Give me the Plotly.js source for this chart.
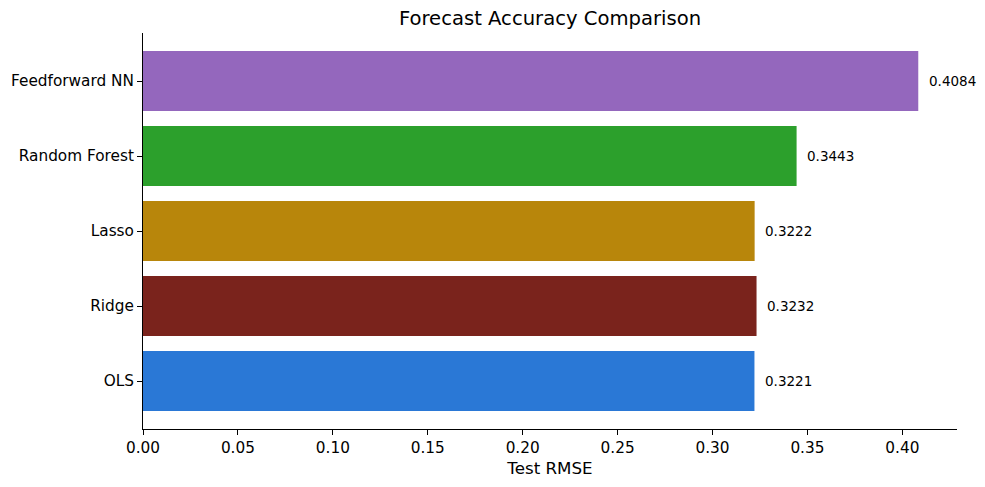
<!DOCTYPE html>
<html>
<head>
<meta charset="utf-8">
<script src="https://cdn.plot.ly/plotly-3.0.1.min.js"></script>
<style>html,body{margin:0;padding:0;background:#fff;}#chart{width:985px;height:487px;}</style>
</head>
<body>
<div id="chart"></div>
<script>
const models = ["OLS", "Ridge", "Lasso", "Random Forest", "Feedforward NN"];
const rmse = [0.3221, 0.3232, 0.3222, 0.3443, 0.4084];
const barColors = ["#2a78d6", "#7a231c", "#b8860b", "#2ca02c", "#9467bd"];
const xTicks = [0, 0.05, 0.10, 0.15, 0.20, 0.25, 0.30, 0.35, 0.40];
const xTickLabels = ["0.00", "0.05", "0.10", "0.15", "0.20", "0.25", "0.30", "0.35", "0.40"];

const font = "DejaVu Sans, sans-serif";

const trace = {
  type: "bar",
  orientation: "h",
  x: rmse,
  y: models,
  marker: {color: barColors, line: {width: 0}},
  hoverinfo: "x+y"
};

const annotations = rmse.map((v, i) => ({
  x: v + 0.005,
  y: models[i],
  xref: "x",
  yref: "y",
  xshift: -1,
  text: v.toFixed(4),
  showarrow: false,
  xanchor: "left",
  yanchor: "middle",
  font: {family: font, size: 13.5, color: "#000"}
}));

const layout = {
  width: 985,
  height: 487,
  margin: {l: 143, r: 28, t: 33, b: 58},
  paper_bgcolor: "#fff",
  plot_bgcolor: "#fff",
  font: {family: font, color: "#000"},
  title: {
    text: "Forecast Accuracy Comparison",
    font: {family: font, size: 19.6, color: "#000"},
    xref: "paper", x: 0.5, xanchor: "center",
    y: 0.962, yanchor: "middle"
  },
  bargap: 0.2,
  showlegend: false,
  xaxis: {
    range: [0, 0.4288],
    tickvals: xTicks,
    ticktext: xTickLabels,
    ticks: "outside",
    ticklen: 5,
    tickwidth: 1,
    tickcolor: "#000",
    showline: true,
    linecolor: "#000",
    linewidth: 1,
    showgrid: false,
    zeroline: false,
    tickfont: {family: font, size: 15.3, color: "#000"},
    title: {text: "Test RMSE", font: {family: font, size: 16.7, color: "#000"}, standoff: 5},
    automargin: false
  },
  yaxis: {
    type: "category",
    categoryorder: "array",
    categoryarray: models,
    range: [-0.64, 4.64],
    ticks: "outside",
    ticklen: 5,
    tickwidth: 1,
    tickcolor: "#000",
    showline: true,
    linecolor: "#000",
    linewidth: 1,
    showgrid: false,
    zeroline: false,
    tickfont: {family: font, size: 15.3, color: "#000"},
    automargin: false
  },
  annotations: annotations
};

Plotly.newPlot("chart", [trace], layout, {staticPlot: true, displayModeBar: false});
</script>
</body>
</html>
